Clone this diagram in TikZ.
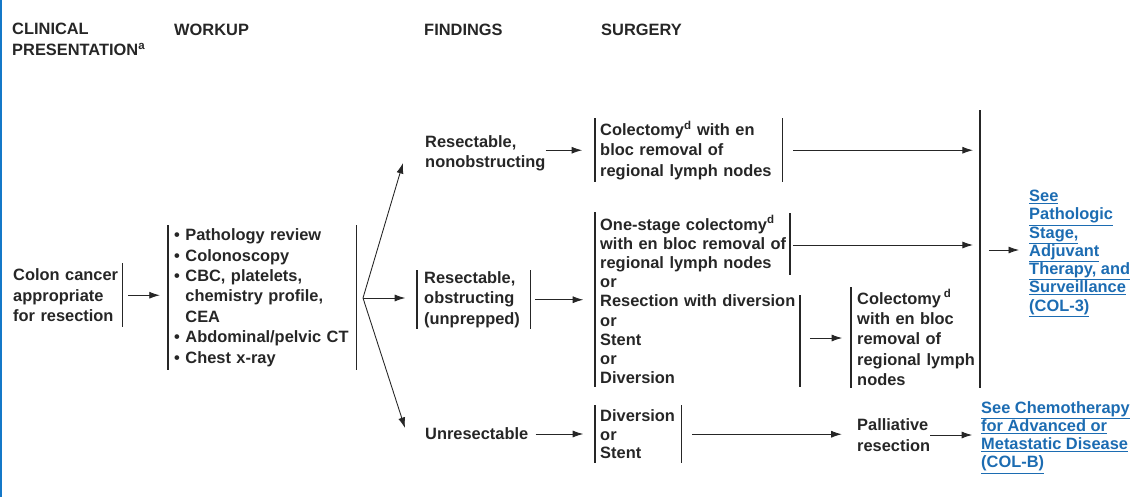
\documentclass[tikz,border=0pt]{standalone}
\usepackage{fontspec}
\setmainfont{Liberation Sans}
\usetikzlibrary{arrows.meta}

\definecolor{ink}{RGB}{38,38,38}
\definecolor{linkblue}{RGB}{28,108,178}
\definecolor{edgeblue}{RGB}{20,120,200}
\newdimen\pxu \pxu=0.03cm

\begin{document}
\begin{tikzpicture}[x=0.03cm, y=-0.03cm, >={Latex[length=9pt,width=6pt]},
	txt/.style={font=\bfseries\fontsize{14}{17.4}\selectfont, text=ink, inner sep=0pt, align=left, anchor=west},
	box/.style={txt, anchor=north west},
	barline/.style={draw=ink, line width=1pt},
	lbar/.style={append after command={(\tikzlastnode.north west) edge[barline] (\tikzlastnode.south west)}},
	rbar/.style={append after command={(\tikzlastnode.north east) edge[barline] (\tikzlastnode.south east)}},
	arr/.style={->, draw=ink, line width=0.75pt},
	link/.style={txt, text=linkblue, font=\bfseries\fontsize{14}{15.6}\selectfont}]
	
	\useasboundingbox (0,0) rectangle (1134,497);
	\fill[edgeblue] (0,0) rectangle (2,497);
	
	% --- Column headers ---
	\node[txt] (hclin) at (12,39.5) {CLINICAL\\PRESENTATION\textsuperscript{a}};
	\node[txt] (hwork) at (174,30) {WORKUP};
	\node[txt] (hfind) at (424,30) {FINDINGS};
	\node[txt] (hsurg) at (601,30) {SURGERY};
	
	% --- Clinical presentation and workup ---
	\node[box, rbar, minimum width=110\pxu, minimum height=64\pxu, text width=108\pxu] (colon) at (12,263)
	{Colon cancer\\appropriate\\for resection};
	\node[box, lbar, rbar, minimum width=188\pxu, minimum height=145\pxu, text width=176\pxu] (workup) at (168,225)
	{\textbullet\ Pathology review\\
		\textbullet\ Colonoscopy\\
		\textbullet\ CBC, platelets,\\
		\hphantom{\textbullet\ }chemistry profile,\\
		\hphantom{\textbullet\ }CEA\\
		\textbullet\ Abdominal/pelvic CT\\
		\textbullet\ Chest x-ray};
	\coordinate (fork) at (363,298);
	
	% --- Findings ---
	\node[txt] (nonobst) at (425,153) {Resectable,\\nonobstructing};
	\node[box, lbar, rbar, minimum width=113\pxu, minimum height=59\pxu, text width=99\pxu] (obst) at (417,270)
	{Resectable,\\obstructing\\(unprepped)};
	\node[txt] (unres) at (425,434) {Unresectable};
	\coordinate (uptip) at (403,163);
	\coordinate (downtip) at (405,428);
	
	% --- Surgery ---
	\node[box, lbar, rbar, minimum width=187\pxu, minimum height=64\pxu, text width=177\pxu] (col1) at (595,118)
	{Colectomy\textsuperscript{d} with en\\bloc removal of\\regional lymph nodes};
	\node[box, lbar, minimum width=210\pxu, minimum height=175\pxu, text width=200\pxu,
	font=\bfseries\fontsize{14}{16.4}\selectfont] (opts) at (595,212)
	{One-stage colectomy\textsuperscript{d}\\with en bloc removal of\\regional lymph nodes\\or\\Resection with diversion\\or\\Stent\\or\\Diversion};
	\draw[barline] (790,213) -- (790,275);
	\draw[barline] (800,295) -- (800,387);
	\coordinate (optsA) at (790,245);
	\coordinate (optsB) at (800,338);
	\node[box, lbar, minimum width=131\pxu, minimum height=101\pxu, text width=119\pxu] (col2) at (851,287)
	{Colectomy\,\textsuperscript{d}\\with en bloc\\removal of\\regional lymph\\nodes};
	\node[box, lbar, rbar, minimum width=86\pxu, minimum height=58\pxu, text width=76\pxu,
	font=\bfseries\fontsize{14}{15.8}\selectfont] (div) at (595,405)
	{Diversion\\or\\Stent};
	\node[txt, font=\bfseries\fontsize{14}{18.3}\selectfont] (pall) at (857,435) {Palliative\\resection};
	
	% --- Collecting bar and links ---
	\coordinate (bigtop) at (980,110);
	\coordinate (bigbot) at (980,388);
	\coordinate (bigmid) at (980,250);
	\draw[barline] (bigtop) -- (bigbot);
	\node[link] (see3) at (1029,253.5)
	{\underline{See}\\\underline{Pathologic}\\\underline{Stage,}\\\underline{Adjuvant}\\\underline{Therapy, and}\\\underline{Surveillance}\\\underline{(COL-3)}};
	\node[link] (seeB) at (981,437.5)
	{\underline{See Chemotherapy}\\\underline{for Advanced or}\\\underline{Metastatic Disease}\\\underline{(COL-B)}};
	
	% --- Arrows ---
	\draw[arr, shorten <=5pt, shorten >=7pt] (colon.east) -- (colon.east -| workup.west);
	\draw[arr, shorten >=10pt] (fork) -- (fork -| obst.west);
	\draw[arr] (fork) -- (uptip);
	\draw[arr] (fork) -- (downtip);
	\draw[arr, shorten >=11pt] (col1.west -| nonobst.east) -- (col1.west);
	\draw[arr, shorten <=4pt, shorten >=10pt] (obst.east) -- (obst.east -| opts.west);
	\draw[arr, shorten <=6pt, shorten >=10pt] (unres.east) -- (unres.east -| div.west);
	\draw[arr, shorten <=9pt, shorten >=6pt] (col1.east) -- (col1.east -| bigtop);
	\draw[arr, shorten <=2.5pt, shorten >=6pt] (optsA) -- (optsA -| bigtop);
	\draw[arr, shorten <=8.5pt, shorten >=7.5pt] (optsB) -- (optsB -| col2.west);
	\draw[arr, shorten <=9pt, shorten >=13pt] (div.east) -- (div.east -| pall.west);
	\draw[arr, shorten >=7.5pt] (pall.east) -- (pall.east -| seeB.west);
	\draw[arr, shorten <=7.5pt, shorten >=8.5pt] (bigmid) -- (bigmid -| see3.west);
	
\end{tikzpicture}
\end{document}
